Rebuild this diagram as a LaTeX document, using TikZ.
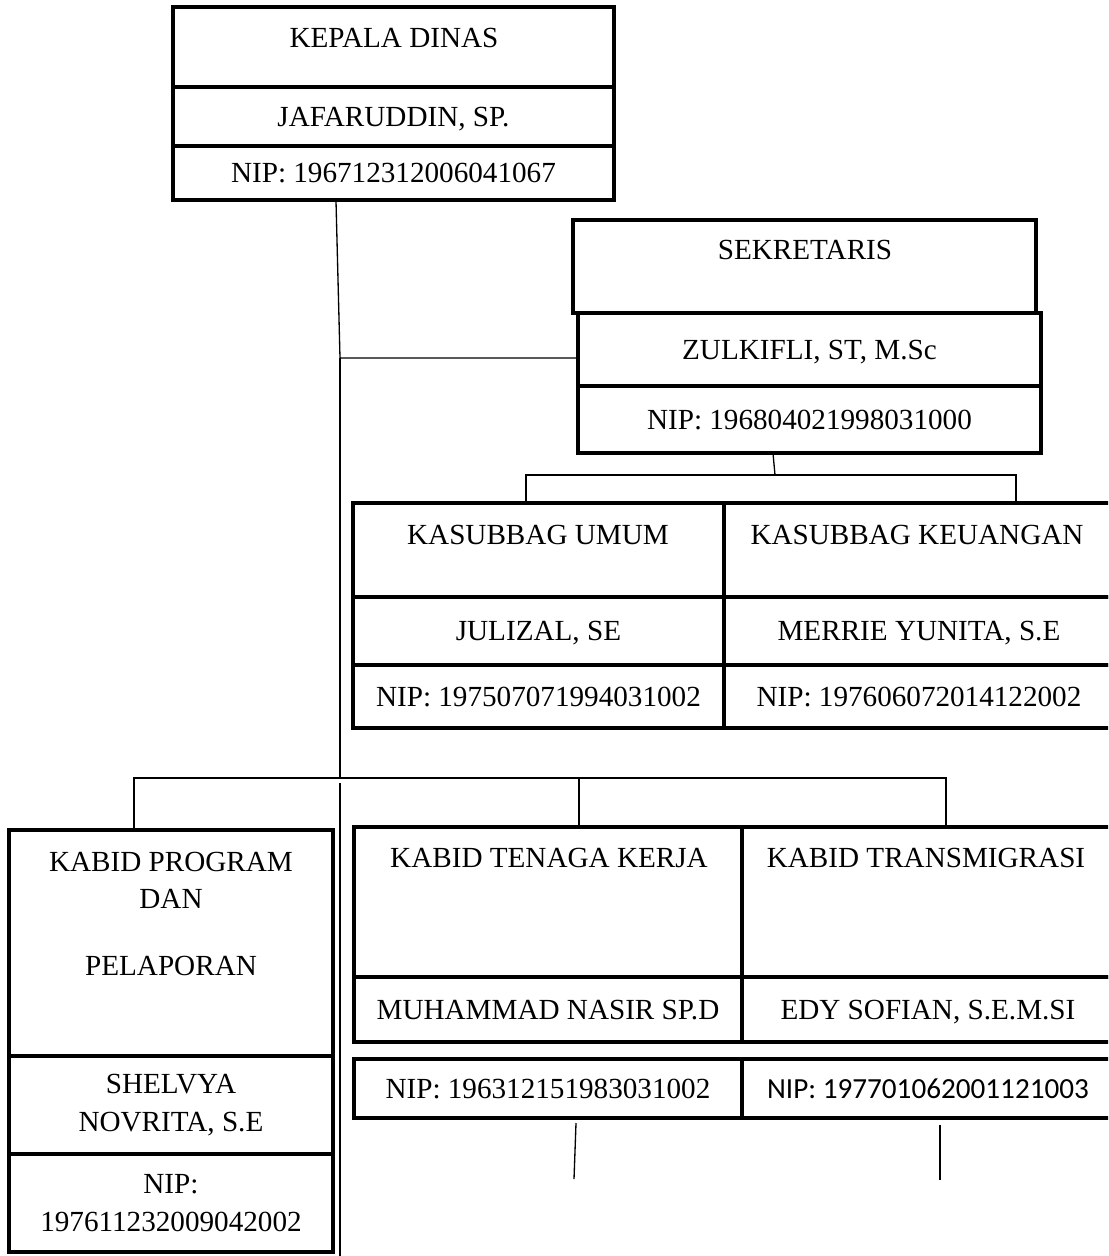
\documentclass[tikz,border=0pt]{standalone}
\usepackage{fontspec}
\setmainfont{Liberation Serif}
\newfontfamily\carlito{Carlito}
\usetikzlibrary{positioning}

\begin{document}
\begin{tikzpicture}[x=0.02cm, y=-0.02cm,
        every node/.style={font=\fontsize{16.6}{21.3}\selectfont, inner sep=0pt, outer sep=0pt},
        cell/.style={draw, line width=1.9pt, anchor=north west},
        nm/.style={cell, text height=11pt, text depth=0pt},
        pair/.style={cell, align=center},
        txt/.style={anchor=north, align=center},
        conn/.style={line width=0.75pt}]
        \useasboundingbox (0,0) rectangle (1108,1256);
        \clip (0,0) rectangle (1108,1256);

        % kepala dinas
        \node[cell, minimum width=8.82cm, minimum height=1.6cm] (kdT) at (173,7) {};
        \node[txt] (kdTt) at (394,28) {KEPALA DINAS};
        \node[nm, minimum width=8.82cm, minimum height=1.18cm] (kdN) at (173,87) {JAFARUDDIN, SP.};
        \node[nm, minimum width=8.82cm, minimum height=1.08cm] (kdP) at (173,146) {NIP: 196712312006041067};

        % sekretaris
        \node[cell, minimum width=9.26cm, minimum height=1.86cm] (sekT) at (573,220) {};
        \node[txt] (sekTt) at (805,240) {SEKRETARIS};
        \node[nm, minimum width=9.26cm, minimum height=1.46cm] (sekN) at (578,313) {ZULKIFLI, ST, M.Sc};
        \node[nm, minimum width=9.26cm, minimum height=1.34cm] (sekP) at (578,386) {NIP: 196804021998031000};

        % kasubbag
        \node[cell, minimum width=7.42cm, minimum height=1.88cm] (kuT) at (353,503) {};
        \node[txt] (kuTt) at (538,525) {KASUBBAG UMUM};
        \node[nm, minimum width=7.42cm, minimum height=1.36cm] (kuN) at (353,597) {JULIZAL, SE};
        \node[nm, minimum width=7.42cm, minimum height=1.26cm] (kuP) at (353,665) {NIP: 197507071994031002};
        \node[cell, minimum width=7.8cm, minimum height=1.88cm] (kkT) at (724,503) {};
        \node[txt] (kkTt) at (917,525) {KASUBBAG KEUANGAN};
        \node[nm, minimum width=7.8cm, minimum height=1.36cm] (kkN) at (724,597) {MERRIE YUNITA, S.E};
        \node[nm, minimum width=7.8cm, minimum height=1.26cm] (kkP) at (724,665) {NIP: 197606072014122002};

        % kabid
        \node[cell, minimum width=6.48cm, minimum height=4.52cm] (kpT) at (9,830) {};
        \node[txt] (kpTt) at (171,852) {KABID PROGRAM\\DAN\\[0.58cm]PELAPORAN};
        \node[pair, minimum width=6.48cm, minimum height=1.96cm] (kpN) at (9,1056) {SHELVYA\\NOVRITA, S.E};
        \node[pair, minimum width=6.48cm, minimum height=1.96cm] (kpP) at (9,1154) {NIP:\\197611232009042002};

        \node[cell, minimum width=7.76cm, minimum height=3cm] (tkT) at (354,827) {};
        \node[txt] (tkTt) at (549,848) {KABID TENAGA KERJA};
        \node[nm, minimum width=7.76cm, minimum height=1.3cm] (tkN) at (354,977) {MUHAMMAD NASIR SP.D};
        \node[nm, minimum width=7.76cm, minimum height=1.18cm] (tkP) at (354,1059) {NIP: 196312151983031002};
        \node[cell, minimum width=7.44cm, minimum height=3cm] (trT) at (742,827) {};
        \node[txt] (trTt) at (926,848) {KABID TRANSMIGRASI};
        \node[nm, minimum width=7.44cm, minimum height=1.3cm] (trN) at (742,977) {EDY SOFIAN, S.E.M.SI};
        \node[nm, minimum width=7.44cm, minimum height=1.18cm] (trP) at (742,1059) {\carlito NIP: 197701062001121003};

        % garis
        \coordinate (j1) at (340,358);
        \coordinate (j2) at (340,778);
        \coordinate (j3) at (340,783);
        \coordinate (j4) at (340,1260);
        \draw[conn] ([xshift=-1.15cm]kdP.south) -- (j1) -- (sekN.west |- j1);
        \draw[conn] (j1) -- (j2);
        \draw[conn] (j3) -- (j4);

        \coordinate (s1) at (775,475);
        \coordinate (dKu) at (526,475);
        \coordinate (dKk) at (1016,475);
        \draw[conn] ([xshift=-0.73cm]sekP.south) -- (s1);
        \draw[conn] (dKu |- kuT.north) -- (dKu) -- (dKk) -- (dKk |- kkT.north);

        \coordinate (dKp) at (134,778);
        \coordinate (dTk) at (579,778);
        \coordinate (dTr) at (946,778);
        \draw[conn] (dKp |- kpT.north) -- (dKp) -- (dTr) -- (dTr |- trT.north);
        \draw[conn] (dTk) -- (dTk |- tkT.north);

        \coordinate (b1) at (576,1123);
        \coordinate (b2) at (574,1179);
        \coordinate (b3) at (940,1125);
        \coordinate (b4) at (940,1180);
        \draw[conn] (b1) -- (b2);
        \draw[conn] (b3) -- (b4);
    \end{tikzpicture}
\end{document}
